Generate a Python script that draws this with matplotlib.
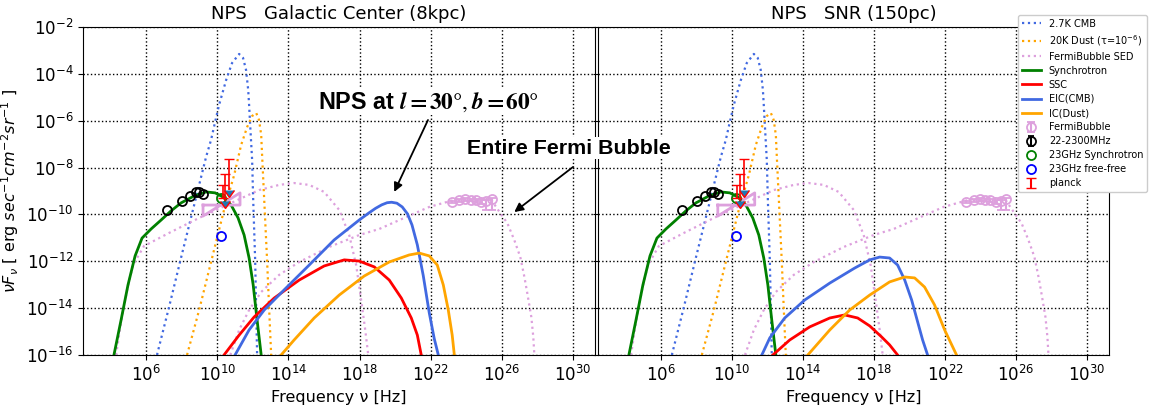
import numpy as np
import matplotlib
matplotlib.use('Agg')
import matplotlib.pyplot as plt
from matplotlib.lines import Line2D

# ---------------- data (log10 frequency [Hz], log10 nuFnu) ----------------
cmb_lognu = [6.61, 7.29, 7.96, 8.70, 9.37, 9.65, 9.88, 10.10, 10.50, 10.83, 11.23,
             11.45, 11.62, 11.74, 11.79, 11.85, 11.96, 12.02, 12.13, 12.19, 12.24]
cmb_logf = [-16.0, -13.95, -11.86, -9.60, -7.55, -6.82, -6.05, -5.33, -4.26, -3.54, -3.15,
            -3.32, -3.84, -4.69, -5.33, -6.18, -7.68, -9.38, -11.94, -14.08, -16.0]

dust_lognu = [8.30, 8.98, 9.65, 10.38, 10.95, 11.34, 11.68, 11.96, 12.19, 12.35, 12.47,
              12.52, 12.64, 12.80, 12.92, 13.03]
dust_logf = [-16.0, -14.08, -12.03, -9.81, -8.32, -7.04, -6.27, -5.80, -5.67, -5.97, -6.61,
             -7.46, -9.38, -11.94, -14.08, -16.0]

fbsed1_lognu = [4.31, 4.59, 4.93, 5.26, 5.88, 7.29, 8.98, 10.67, 12.35, 13.48, 14.32, 15.17,
                16.01, 16.86, 17.42, 17.81, 18.09, 18.32, 18.49]
fbsed1_logf = [-16.0, -14.59, -13.22, -12.16, -11.35, -10.79, -10.15, -9.55, -8.96, -8.74,
               -8.66, -8.74, -9.04, -9.81, -10.88, -12.16, -13.65, -14.93, -16.0]
fbsed2_lognu = [10.73, 11.23, 11.79, 12.47, 13.48, 14.61, 16.29, 17.98, 19.11, 20.51, 21.92,
                23.33, 24.45, 25.41, 25.91, 26.31, 26.70, 27.04, 27.27, 27.43, 27.66, 27.77, 27.83]
fbsed2_logf = [-16.0, -14.93, -14.08, -13.31, -12.58, -12.03, -11.39, -10.88, -10.62, -10.15,
               -9.68, -9.38, -9.26, -9.38, -9.94, -10.37, -11.09, -11.82, -12.67, -13.35,
               -14.38, -15.23, -16.0]

syn_lognu = [4.19, 4.59, 4.98, 5.38, 5.77, 6.28, 6.84, 7.40, 7.96, 8.70, 9.37, 9.88, 10.33,
             10.78, 11.17, 11.51, 11.79, 12.02, 12.24, 12.47]
syn_logf = [-16.0, -14.51, -13.01, -11.77, -11.01, -10.62, -10.24, -9.85, -9.51, -9.21, -9.04,
            -9.08, -9.26, -9.60, -10.15, -10.88, -11.86, -13.01, -14.51, -16.0]

# Galactic Center (8 kpc) panel
ssc_gc_lognu = [10.38, 11.23, 12.07, 13.20, 14.61, 16.01, 17.14, 17.98, 18.83, 19.67, 20.35,
                20.91, 21.25, 21.47]
ssc_gc_logf = [-16.0, -15.15, -14.38, -13.57, -12.80, -12.20, -11.94, -11.99, -12.24, -12.80,
               -13.57, -14.42, -15.15, -16.0]
eic_gc_lognu = [11.00, 11.79, 12.64, 13.76, 15.17, 16.57, 17.98, 18.50, 18.90, 19.25, 19.55,
                19.80, 20.10, 20.40, 20.70, 20.95, 21.25, 21.58, 21.92, 22.20, 22.43]
eic_gc_logf = [-16.0, -14.93, -14.08, -13.22, -12.16, -11.09, -10.24, -9.95, -9.74, -9.59,
               -9.50, -9.48, -9.52, -9.68, -9.98, -10.45, -11.30, -12.60, -14.20, -15.30, -16.0]
ic_gc_lognu = [13.59, 14.32, 15.45, 16.86, 18.26, 19.67, 20.79, 21.36, 21.92, 22.37, 22.71,
               22.99, 23.21, 23.33]
ic_gc_logf = [-16.0, -15.36, -14.42, -13.44, -12.63, -12.03, -11.73, -11.65, -11.77, -12.16,
              -13.01, -14.08, -15.15, -16.0]

# SNR (150 pc) panel
ssc_snr_lognu = [12.30, 13.25, 14.38, 15.51, 16.35, 17.08, 17.76, 18.43, 18.88, 19.33]
ssc_snr_logf = [-16.0, -15.36, -14.80, -14.42, -14.29, -14.42, -14.76, -15.23, -15.57, -16.0]
eic_snr_lognu = [11.68, 12.13, 12.97, 14.10, 15.51, 16.91, 17.76, 18.32, 18.88, 19.33, 19.73,
                 20.12, 20.46, 20.74, 21.02]
eic_snr_logf = [-16.0, -15.27, -14.42, -13.65, -12.93, -12.29, -11.94, -11.82, -11.86, -12.16,
                -12.80, -13.65, -14.59, -15.36, -16.0]
ic_snr_lognu = [14.27, 15.51, 16.63, 17.76, 18.88, 19.73, 20.29, 20.85, 21.41, 21.98, 22.65]
ic_snr_logf = [-16.0, -14.93, -14.08, -13.44, -12.88, -12.67, -12.71, -13.10, -13.86, -14.93, -16.0]

# observations
fb_lognu = [23.21, 23.61, 23.95, 24.28, 24.56, 24.85, 25.13, 25.46]
fb_logf = [-9.47, -9.40, -9.36, -9.39, -9.40, -9.45, -9.43, -9.36]
fb_err_lo = [0.05, 0.05, 0.05, 0.05, 0.05, 0.10, 0.40, 0.45]   # dex
fb_err_hi = [0.05, 0.05, 0.05, 0.05, 0.05, 0.05, 0.05, 0.05]

radio_lognu = [7.18, 8.02, 8.47, 8.81, 8.98, 9.20]
radio_logf = [-9.81, -9.43, -9.21, -9.04, -9.04, -9.13]

k23_lognu = [10.22]
k23_sync_logf = [-9.30]
k23_ff_logf = [-10.92]

planck_lognu = [10.67, 10.44]
planck_top_logf = [-7.63, -8.27]
planck_bot_logf = [-8.96, -9.43]
planck_bar_lognu = [10.30]
planck_bar_top = [-8.74]
planck_bar_bot = [-9.30]

haze_lognu = [9.20, 11.28, 11.28, 9.20, 9.20]
haze_logf = [-9.60, -9.60, -9.08, -10.07, -9.60]

xticks_log = [6, 10, 14, 18, 22, 26, 30]
yticks_log = [-16, -14, -12, -10, -8, -6, -4, -2]

C_BLUE = 'royalblue'
C_ORNG = 'orange'
C_PLUM = 'plum'

W, H = 1153, 412
fig = plt.figure(figsize=(W / 100, H / 100), dpi=100)
axL = fig.add_axes([83 / W, 57 / H, 512 / W, 328 / H])
axR = fig.add_axes([598 / W, 57 / H, 511 / W, 328 / H], sharey=axL)


def p(a):
    return 10 ** np.asarray(a, dtype=float)


def draw(ax, ssc, eic, ic):
    ax.plot(p(cmb_lognu), p(cmb_logf), ls=':', color=C_BLUE, lw=1.6)
    ax.plot(p(dust_lognu), p(dust_logf), ls=':', color=C_ORNG, lw=1.6)
    ax.plot(p(fbsed1_lognu), p(fbsed1_logf), ls=':', color=C_PLUM, lw=1.6)
    ax.plot(p(fbsed2_lognu), p(fbsed2_logf), ls=':', color=C_PLUM, lw=1.6)
    ax.plot(p(syn_lognu), p(syn_logf), color='green', lw=2)
    ax.plot(p(ssc[0]), p(ssc[1]), color='red', lw=2)
    ax.plot(p(eic[0]), p(eic[1]), color=C_BLUE, lw=2)
    ax.plot(p(ic[0]), p(ic[1]), color=C_ORNG, lw=2)
    ax.plot(p(haze_lognu), p(haze_logf), color=C_PLUM, lw=2)
    f = p(fb_logf)
    ax.errorbar(p(fb_lognu), f, yerr=[f - f * p(np.negative(fb_err_lo)), f * p(fb_err_hi) - f],
                fmt='o', mfc='none', mec=C_PLUM, ecolor=C_PLUM, ms=6.5, capsize=3, mew=1.3)
    ax.plot(p(radio_lognu), p(radio_logf), 'o', mfc='none', mec='black', ms=6.5, mew=1.3)
    ax.plot(p(k23_lognu), p(k23_sync_logf), 'o', mfc='none', mec='green', ms=6.5, mew=1.3)
    ax.plot(p(k23_lognu), p(k23_ff_logf), 'o', mfc='none', mec='blue', ms=6.5, mew=1.3)
    top = p(planck_top_logf)
    bot = p(planck_bot_logf)
    ax.errorbar(p(planck_lognu), top, yerr=[top - bot, np.zeros_like(top)], uplims=True,
                fmt='none', ecolor='red', capsize=3.3, elinewidth=1.2)
    bt = p(planck_bar_top)
    bb = p(planck_bar_bot)
    ax.errorbar(p(planck_bar_lognu), bt, yerr=[bt - bb, np.zeros_like(bt)],
                fmt='none', ecolor='red', capsize=3.3, elinewidth=1.2)

    ax.set_xscale('log')
    ax.set_yscale('log')
    ax.set_xlim(10 ** 2.45, 10 ** 31.24)
    ax.set_ylim(1e-16, 1e-2)
    ax.set_xticks(p(xticks_log))
    ax.set_yticks(p(yticks_log))
    ax.minorticks_off()
    ax.grid(True, which='major', ls=':', color='black', lw=1.0)
    ax.tick_params(labelsize=12)
    ax.set_xlabel('Frequency ν [Hz]', fontsize=11.5)


draw(axL, (ssc_gc_lognu, ssc_gc_logf), (eic_gc_lognu, eic_gc_logf), (ic_gc_lognu, ic_gc_logf))
draw(axR, (ssc_snr_lognu, ssc_snr_logf), (eic_snr_lognu, eic_snr_logf), (ic_snr_lognu, ic_snr_logf))
axR.tick_params(labelleft=False)
axL.set_title('NPS   Galactic Center (8kpc)', fontsize=13)
axR.set_title('NPS   SNR (150pc)', fontsize=13)
axL.set_ylabel(r'$\nu F_\nu$ [ erg $sec^{-1}cm^{-2}sr^{-1}$ ]', fontsize=11.5)
axL.yaxis.set_label_coords(-62 / 512, 0.5)

# legend
handles = [
    Line2D([], [], ls=':', color=C_BLUE, lw=1.6),
    Line2D([], [], ls=':', color=C_ORNG, lw=1.6),
    Line2D([], [], ls=':', color=C_PLUM, lw=1.6),
    Line2D([], [], color='green', lw=2),
    Line2D([], [], color='red', lw=2),
    Line2D([], [], color=C_BLUE, lw=2),
    Line2D([], [], color=C_ORNG, lw=2),
]
labels = ['2.7K CMB', '20K Dust (τ=10$^{-6}$)', 'FermiBubble SED', 'Synchrotron', 'SSC',
          'EIC(CMB)', 'IC(Dust)']
eb_fb = axL.errorbar([np.nan], [np.nan], yerr=[1], fmt='o', mfc='none', mec=C_PLUM,
                     ecolor=C_PLUM, ms=6.5, capsize=3, mew=1.3)
eb_rad = axL.errorbar([np.nan], [np.nan], yerr=[1], fmt='o', mfc='none', mec='black',
                      ecolor='black', ms=6.5, capsize=2, mew=1.3)
eb_pl = axL.errorbar([np.nan], [np.nan], yerr=[1], fmt='none', ecolor='red', capsize=3.3)
handles += [eb_fb, eb_rad,
            Line2D([], [], ls='none', marker='o', mfc='none', mec='green', ms=6.5, mew=1.3),
            Line2D([], [], ls='none', marker='o', mfc='none', mec='blue', ms=6.5, mew=1.3),
            eb_pl]
labels += ['FermiBubble', '22-2300MHz', '23GHz Synchrotron', '23GHz free-free', 'planck']
fig.legend(handles, labels, loc='upper right', bbox_to_anchor=(1152 / W, 1 - 10 / H),
           fontsize=7, framealpha=1.0, labelspacing=0.42)

# annotation overlay
ov = fig.add_axes([0, 0, 1, 1], zorder=10)
ov.set_xlim(0, W)
ov.set_ylim(H, 0)
ov.axis('off')
ov.patch.set_alpha(0)
ov.text(428, 102, r'NPS at $\boldsymbol{l=30°,b=60°}$', ha='center', va='center',
        fontsize=16.8, fontweight='bold', family='Liberation Sans', math_fontfamily='stix',
        bbox=dict(facecolor='white', edgecolor='none', pad=1))
ov.text(569, 148, 'Entire Fermi Bubble', ha='center', va='center', fontsize=15.4,
        fontweight='bold', family='Liberation Sans',
        bbox=dict(facecolor='white', edgecolor='none', pad=1))
arrow = dict(arrowstyle='-|>', color='black', lw=1.3, mutation_scale=13, shrinkA=0, shrinkB=0)
ov.annotate('', xy=(10 ** 19.95, 10 ** -9.04), xycoords=axL.transData, xytext=(428, 120),
            textcoords='data', arrowprops=arrow)
ov.annotate('', xy=(10 ** 26.70, 10 ** -9.90), xycoords=axL.transData, xytext=(573, 167),
            textcoords='data', arrowprops=arrow)

fig.savefig('out.png', dpi=100)
